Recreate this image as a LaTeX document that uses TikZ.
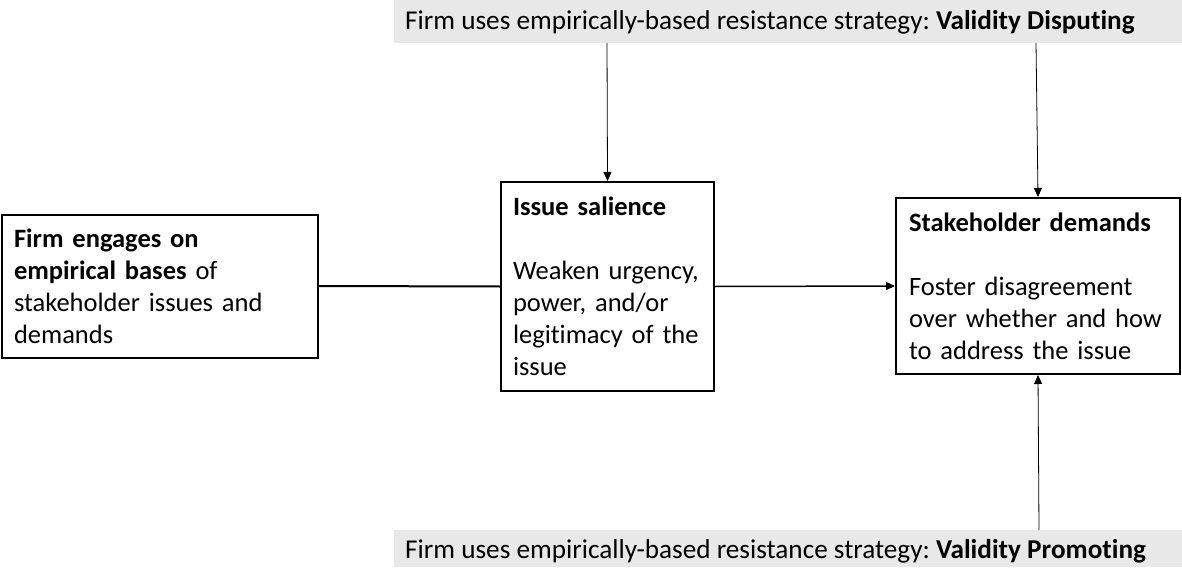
\documentclass[tikz,border=0pt]{standalone}
\usepackage{fontspec}
\setmainfont{Carlito}[RawFeature={-liga}]
\usetikzlibrary{arrows.meta}
\definecolor{bargray}{RGB}{232,232,232}
\frenchspacing
\begin{document}
\begin{tikzpicture}[x=1pt,y=-1pt,
  every node/.style={font=\fontsize{26.5}{32}\selectfont},
  barlabel/.style={anchor=west,inner sep=0pt,font=\fontsize{27.2}{32}\selectfont},
  box/.style={draw=black,line width=2pt,align=left,inner xsep=12pt,inner ysep=0pt,anchor=center},
  thin/.style={line width=0.8pt,-{Triangle[length=9pt,width=8pt]}},
  thick/.style={line width=2pt}]
\useasboundingbox (0,0) rectangle (1182,567);
% grey bars
\fill[bargray] (394,0) rectangle (1182,43);
\fill[bargray] (394,530) rectangle (1182,567);
\node[barlabel] (topbar) at (405,22) {Firm uses empirically-based resistance strategy: \textbf{Validity Disputing}};
\node[barlabel] (botbar) at (405,551) {Firm uses empirically-based resistance strategy: \textbf{Validity Promoting}};
\coordinate (t1) at (607,43);
\coordinate (t2) at (1036,43);
\coordinate (b1) at (1039,530);
% boxes
\node[box,minimum width=316pt,minimum height=143pt,text width=292pt] (left) at (160,286)
  {\textbf{Firm engages on}\\\textbf{empirical bases} of\\stakeholder issues and\\demands};
\node[box,minimum width=213pt,minimum height=209pt,text width=189pt] (mid) at (607.5,286.5)
  {\textbf{Issue salience}\\[32pt]Weaken urgency,\\power, and/or\\legitimacy of the\\issue};
\node[box,minimum width=284pt,minimum height=176pt,text width=258pt,inner xsep=13pt] (right) at (1038,286)
  {\textbf{Stakeholder demands}\\[32pt]Foster disagreement\\over whether and how\\to address the issue};
% connectors
\draw[thick] (left.east) -- (mid.west);
\draw[line width=1.5pt,-{Triangle[length=9pt,width=8pt]}] (mid.east) -- (right.west);
\draw[thin] (t1) -- (mid.north);
\draw[thin] (t2) -- (right.north);
\draw[thin] (b1) -- (right.south);
\end{tikzpicture}
\end{document}
